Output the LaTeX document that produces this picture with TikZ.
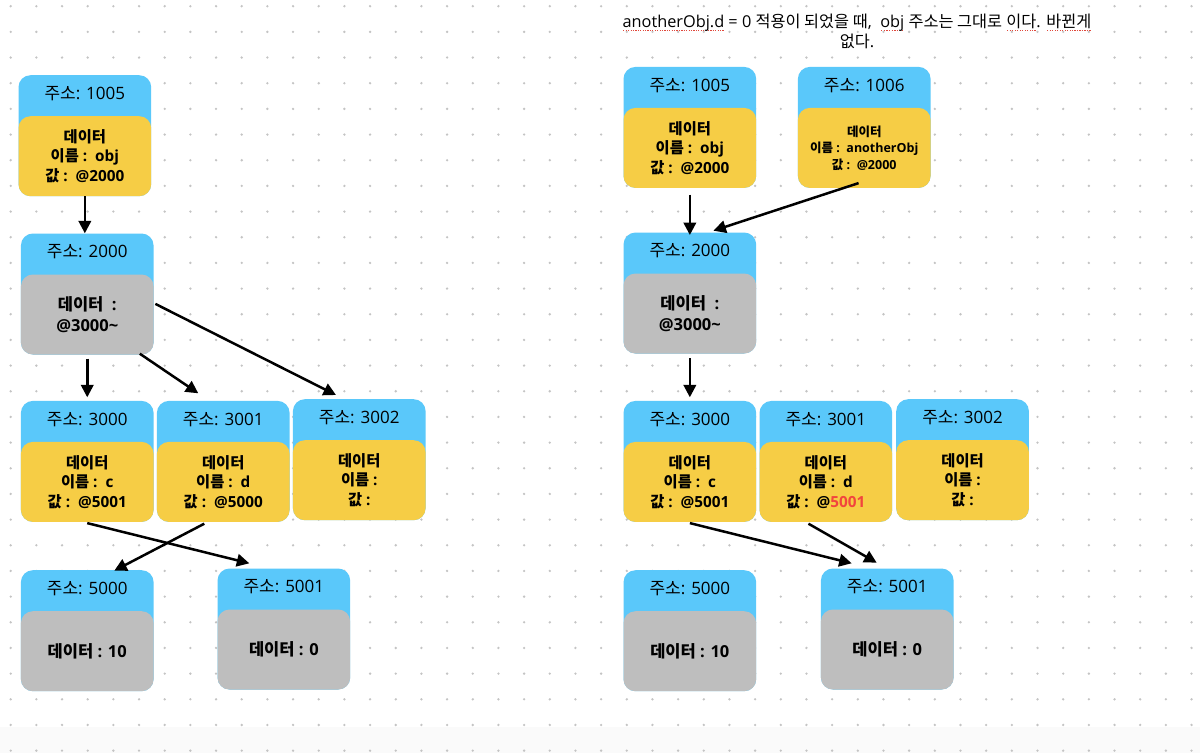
\documentclass[tikz,border=0pt]{standalone}
\usepackage{fontspec}
\setmainfont{Open Sans}
\newfontfamily\kr{Noto Sans CJK KR}
\newcommand\ko[1]{{\kr #1}}
\usetikzlibrary{arrows.meta,calc}
\definecolor{blueC}{HTML}{5AC8FA}
\definecolor{yellowC}{HTML}{F6CD45}
\definecolor{grayC}{HTML}{BEBEBE}
\definecolor{dotC}{HTML}{C4C4C4}
\definecolor{bandC}{HTML}{FAFAFA}
\definecolor{redC}{HTML}{F2453D}
\definecolor{splred}{HTML}{E0483C}
\newsavebox\splbox
\newcommand\spl[1]{\sbox\splbox{#1}\rlap{\textcolor{splred}{\hbox to \wd\splbox{\xleaders\hbox{\kern0.6pt\rule[-3.4pt]{1.2pt}{1.1pt}\kern0.6pt}\hfill}}}\usebox\splbox}
\newcommand\memcell[6]{%
  \node[hdr,anchor=north west] (#1a) at (#2,#3) {};
  \node[#4,anchor=south west] (#1d) at (#1a.south west) {#6};
  \node[htxt] (#1h) at ([shift={(0,24.5)}]#1a.north) {\ko{주소}: #5};
}
\begin{document}
\begin{tikzpicture}[x=1pt,y=-1pt,
  hdr/.style={fill=blueC, rounded corners=12pt, minimum width=132.7pt, minimum height=121pt, inner sep=0pt},
  ybody/.style={fill=yellowC, rounded corners=12pt, minimum width=132.7pt, minimum height=80pt, inner sep=0pt, align=center, font=\fontsize{15.3}{19.4}\selectfont\bfseries},
  ysmall/.style={ybody, font=\fontsize{12.5}{16.5}\selectfont\bfseries},
  gbody/.style={fill=grayC, rounded corners=12pt, minimum width=132.7pt, minimum height=80pt, inner sep=0pt, align=center, font=\fontsize{16.5}{21}\selectfont\bfseries},
  htxt/.style={anchor=base, inner sep=0pt, font=\fontsize{17}{20}\selectfont},
  toptxt/.style={anchor=base, inner sep=0pt, font=\fontsize{16.3}{20}\selectfont},
  arr/.style={line width=2.5pt, -{Triangle[length=12.5pt,width=12.5pt]}},
]
\useasboundingbox (0,0) rectangle (1200,753);
\fill[white] (0,0) rectangle (1200,753);
\fill[bandC] (0,727) rectangle (1200,753);
\foreach \i in {0,...,46}{\foreach \j in {0,...,29}{\fill[dotC] ({10.7+\i*25.67},{6.2+\j*25.67}) circle (1.3pt);}}

% top note
\node[toptxt] (top1) at (857,27.3) {\spl{anotherObj.d} = 0 \ko{적용이 되었을 때},\ \ \spl{obj} \ko{주소는 그대로} \spl{\ko{이다}}. \spl{\ko{바뀐게}}};
\node[toptxt] (top2) at (857,47) {\ko{없다}.};

% left diagram
\memcell{l1005}{18.3}{75}{ybody}{1005}{\ko{데이터}\\\ko{이름} :\ \ obj\\\ko{값} :\ \ @2000}
\memcell{l2000}{20.7}{233.3}{gbody}{2000}{\ko{데이터}\ \ :\\@3000\textasciitilde}
\memcell{l3000}{20.7}{400.7}{ybody}{3000}{\ko{데이터}\\\ko{이름} :\ \ c\\\ko{값} :\ \ @5001}
\memcell{l3001}{156.7}{400.7}{ybody}{3001}{\ko{데이터}\\\ko{이름} :\ \ d\\\ko{값} :\ \ @5000}
\memcell{l3002}{292.7}{399}{ybody}{3002}{\ko{데이터}\\\ko{이름} :\\\ko{값} :}
\memcell{l5000}{20.7}{570}{gbody}{5000}{\ko{데이터} : 10}
\memcell{l5001}{217.3}{568.3}{gbody}{5001}{\ko{데이터} : 0}

% right diagram
\memcell{r1005}{623.3}{66.7}{ybody}{1005}{\ko{데이터}\\\ko{이름} :\ \ obj\\\ko{값} :\ \ @2000}
\memcell{r1006}{797.7}{66.7}{ysmall}{1006}{\ko{데이터}\\\ko{이름} :\ \ anotherObj\\\ko{값} :\ \ @2000}
\memcell{r2000}{623.3}{232.3}{gbody}{2000}{\ko{데이터}\ \ :\\@3000\textasciitilde}
\memcell{r3000}{623.3}{400.7}{ybody}{3000}{\ko{데이터}\\\ko{이름} :\ \ c\\\ko{값} :\ \ @5001}
\memcell{r3001}{759.3}{400.7}{ybody}{3001}{\ko{데이터}\\\ko{이름} :\ \ d\\\ko{값} :\ \ @\textcolor{redC}{5001}}
\memcell{r3002}{896}{399}{ybody}{3002}{\ko{데이터}\\\ko{이름} :\\\ko{값} :}
\memcell{r5000}{623.3}{570}{gbody}{5000}{\ko{데이터} : 10}
\memcell{r5001}{820.7}{568.3}{gbody}{5001}{\ko{데이터} : 0}

% left arrows
\draw[arr] (l1005d.south) -- (l1005d.south |- l2000a.north);
\draw[arr] ([shift={(0,4)}]l2000d.south) -- ([shift={(0,-3.4)}]l3000a.north);
\draw[arr] ([shift={(-14,-1)}]l2000d.south east) -- ([shift={(41.6,-7.4)}]l3001a.north west);
\draw[arr] ([shift={(1.6,-10.6)}]l2000d.east) -- ([shift={(43.3,-4)}]l3002a.north west);
\draw[arr] ([shift={(0,1)}]l3000d.south) -- ([shift={(32,-5)}]l5001a.north west);
\draw[arr] ([shift={(-19,1.6)}]l3001d.south) -- ([shift={(93.6,0.7)}]l5000a.north west);

% right arrows
\draw[arr] ([shift={(0,6.6)}]r1005d.south) -- ([shift={(0,2.7)}]r2000a.north);
\draw[arr] ([shift={(-5.7,-5)}]r1006d.south) -- ([shift={(23.6,-1.6)}]r2000a.north);
\draw[arr] ([shift={(0,4.7)}]r2000d.south) -- ([shift={(0,-3.4)}]r3000a.north);
\draw[arr] ([shift={(0,1)}]r3000d.south) -- ([shift={(31,-5)}]r5001a.north west);
\draw[arr] ([shift={(-17.4,1.6)}]r3001d.south) -- ([shift={(56,-5.6)}]r5001a.north west);
\end{tikzpicture}
\end{document}
